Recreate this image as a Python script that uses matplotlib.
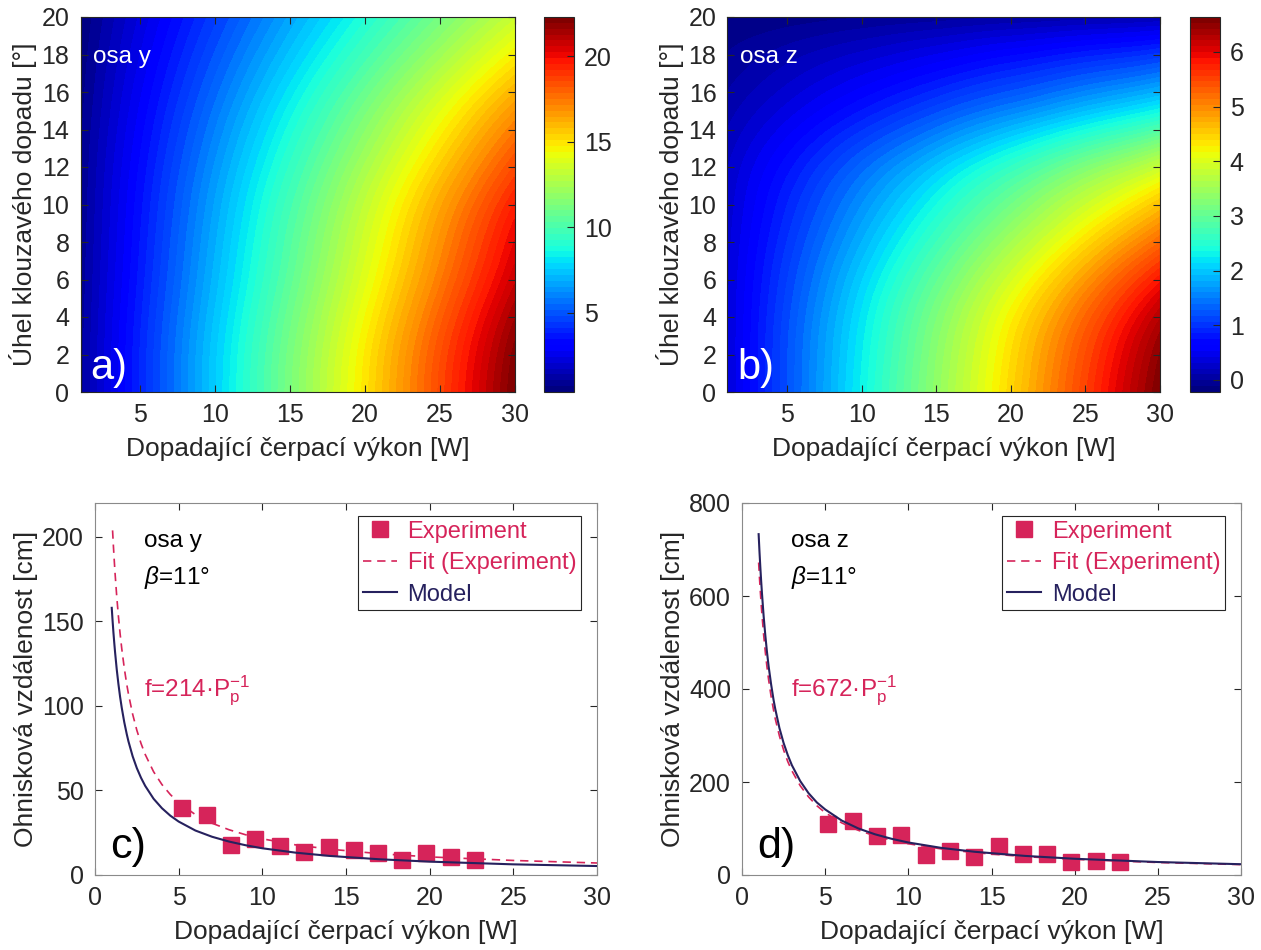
import matplotlib
matplotlib.use('Agg')
import matplotlib.pyplot as plt
import matplotlib.tri as mtri
import matplotlib.cm as mcm
import matplotlib.colors as mcolors
import numpy as np

plt.rcParams['font.family'] = ['Liberation Sans', 'DejaVu Sans']
plt.rcParams['mathtext.fontset'] = 'custom'
plt.rcParams['mathtext.rm'] = 'Liberation Sans'
plt.rcParams['mathtext.it'] = 'Liberation Sans:italic'
plt.rcParams['mathtext.bf'] = 'Liberation Sans:bold'

# ---------------- data: heat maps ----------------
P_grid = [1, 5, 10, 15, 20, 25, 30]
theta_grid = [0, 2.5, 5, 7.5, 10, 12.5, 15, 17.5, 20]

# optical power, axis y (rows = angle, columns = pump power)
power_y = [
    [0.90, 3.85, 7.53, 11.24, 14.92, 18.62, 22.30],
    [0.90, 3.81, 7.44, 11.09, 14.72, 18.37, 22.00],
    [0.85, 3.66, 7.16, 10.68, 14.18, 17.70, 21.20],
    [0.80, 3.50, 6.88, 10.27, 13.64, 17.03, 20.40],
    [0.75, 3.35, 6.59, 9.85, 13.10, 16.36, 19.60],
    [0.70, 3.13, 6.16, 9.20, 12.23, 15.27, 18.30],
    [0.60, 2.84, 5.62, 8.42, 11.21, 14.01, 16.80],
    [0.50, 2.50, 5.00, 7.50, 10.00, 12.51, 15.00],
    [0.37, 2.15, 4.38, 6.62, 8.84, 11.08, 13.30],
]
# optical power, axis z
power_z = [
    [0.30, 1.17, 2.27, 3.36, 4.45, 5.55, 6.64],
    [0.30, 1.16, 2.22, 3.29, 4.36, 5.43, 6.50],
    [0.30, 1.10, 2.10, 3.10, 4.10, 5.10, 6.10],
    [0.28, 0.99, 1.87, 2.75, 3.63, 4.52, 5.40],
    [0.25, 0.85, 1.60, 2.35, 3.10, 3.85, 4.60],
    [0.18, 0.65, 1.24, 1.83, 2.42, 3.01, 3.60],
    [0.05, 0.36, 0.75, 1.14, 1.52, 1.91, 2.30],
    [-0.08, 0.10, 0.32, 0.54, 0.76, 0.98, 1.20],
    [-0.22, -0.18, -0.12, -0.07, -0.01, 0.04, 0.10],
]
clim_y = (0.37, 22.3)
clim_z = (-0.22, 6.64)
cticks_y = [5, 10, 15, 20]
cticks_z = [0, 1, 2, 3, 4, 5, 6]

# ---------------- data: focal distance vs pump power ----------------
P_exp = [5.17, 6.68, 8.11, 9.57, 11.05, 12.5, 13.97, 15.45, 16.9, 18.36, 19.8, 21.28, 22.7]
f_exp_y = [39.7, 35.4, 17.7, 21.2, 17.1, 13.4, 16.3, 14.7, 12.8, 9.0, 12.8, 10.8, 8.8]
f_exp_z = [109.7, 116.8, 84.6, 86.0, 43.0, 52.0, 39.4, 61.6, 45.0, 45.0, 27.0, 30.8, 27.0]

P_model = [1, 1.05, 1.1, 1.15, 1.2, 1.3, 1.4, 1.5, 1.6, 1.75, 1.9, 2, 2.25, 2.5, 2.75, 3,
           3.5, 4, 4.5, 5, 6, 7, 8, 9, 10, 12, 14, 17, 20, 25, 30]
f_model_y = [158.0, 150.5, 143.6, 137.4, 131.7, 121.5, 112.9, 105.3, 98.8, 90.3, 83.2, 79.0,
             70.2, 63.2, 57.5, 52.7, 45.1, 39.5, 35.1, 31.6, 26.3, 22.6, 19.8, 17.6, 15.8,
             13.2, 11.3, 9.3, 7.9, 6.3, 5.3]
f_model_z = [733, 696, 663, 633, 606, 557, 516, 480, 449, 410, 376, 357, 316, 284, 258, 236,
             202, 176, 156, 141, 117, 100, 87.5, 77.8, 69.9, 58.2, 49.9, 41.1, 34.9, 27.9, 23.2]

P_fit_y = [1.05, 1.1, 1.15, 1.2, 1.3, 1.4, 1.5, 1.6, 1.75, 1.9, 2, 2.25, 2.5, 2.75, 3,
           3.5, 4, 4.5, 5, 6, 7, 8, 9, 10, 12, 14, 17, 20, 25, 30]
f_fit_y = [203.8, 194.5, 186.1, 178.3, 164.6, 152.9, 142.7, 133.8, 122.3, 112.6, 107.0, 95.1,
           85.6, 77.8, 71.3, 61.1, 53.5, 47.6, 42.8, 35.7, 30.6, 26.8, 23.8, 21.4, 17.8, 15.3,
           12.6, 10.7, 8.6, 7.1]
P_fit_z = [1, 1.05, 1.1, 1.15, 1.2, 1.3, 1.4, 1.5, 1.6, 1.75, 1.9, 2, 2.25, 2.5, 2.75, 3,
           3.5, 4, 4.5, 5, 6, 7, 8, 9, 10, 12, 14, 17, 20, 25, 30]
f_fit_z = [672, 640, 611, 584, 560, 517, 480, 448, 420, 384, 354, 336, 299, 269, 244, 224,
           192, 168, 149, 134, 112, 96, 84, 74.7, 67.2, 56, 48, 39.5, 33.6, 26.9, 22.4]

xlabel = 'Dopadající čerpací výkon [W]'
ylabel_top = 'Úhel klouzavého dopadu [°]'
ylabel_bot = 'Ohnisková vzdálenost [cm]'

crimson = '#D6245A'
navy = '#26215E'
txt = '#262626'

W, H = 1261, 950
fig = plt.figure(figsize=(W / 100, H / 100), dpi=100)


def rect(l, r, t, b):
    return [l / W, 1 - b / H, (r - l) / W, (b - t) / H]


ax_a = fig.add_axes(rect(80.5, 514.5, 17, 392))
cax_a = fig.add_axes(rect(544, 574, 17, 392))
ax_b = fig.add_axes(rect(727.5, 1160, 17, 392))
cax_b = fig.add_axes(rect(1190, 1220, 17, 392))
ax_c = fig.add_axes(rect(95, 597, 503, 875))
ax_d = fig.add_axes(rect(742, 1241, 503, 875))

FS_TICK = 18
FS_XL = 19
FS_YL = 19
FS_TXT = 17.5
jet64 = plt.get_cmap('jet', 64)


def style_ticks(ax, color=txt):
    ax.tick_params(direction='in', top=True, right=True, length=5, width=0.8,
                   labelsize=FS_TICK, colors=txt, pad=8)
    for s in ax.spines.values():
        s.set_color(color)
        s.set_linewidth(0.8)


def heat(ax, cax, Z, clim, cticks, axis_name, panel):
    vmin, vmax = clim
    PP, TT = np.meshgrid(P_grid, theta_grid)
    tri = mtri.Triangulation(PP.ravel(), TT.ravel())
    refiner = mtri.UniformTriRefiner(tri)
    tri_f, z_f = refiner.refine_field(np.array(Z, dtype=float).ravel(), subdiv=4)
    levels = np.linspace(vmin, vmax, 65)
    ax.tricontourf(tri_f, z_f, levels=levels, cmap='jet', vmin=vmin, vmax=vmax,
                   extend='both', antialiased=False)
    ax.set_xlim(1, 30)
    ax.set_ylim(0, 20)
    ax.set_xticks([5, 10, 15, 20, 25, 30])
    ax.set_yticks(range(0, 21, 2))
    style_ticks(ax)
    ax.set_xlabel(xlabel, fontsize=FS_XL, color=txt, labelpad=7)
    ax.set_ylabel(ylabel_top, fontsize=FS_YL, color=txt, labelpad=3)
    ax.text(0.028, 0.893, axis_name, transform=ax.transAxes, color='white',
            fontsize=FS_TXT, va='center', ha='left')
    ax.text(0.022, 0.012, panel, transform=ax.transAxes, color='white',
            fontsize=30, va='bottom', ha='left')
    sm = mcm.ScalarMappable(norm=mcolors.Normalize(vmin, vmax), cmap=jet64)
    cb = fig.colorbar(sm, cax=cax, ticks=cticks)
    cb.ax.tick_params(direction='in', length=5, width=0.8, labelsize=FS_TICK, colors=txt,
                      pad=7)
    cb.outline.set_edgecolor(txt)
    cb.outline.set_linewidth(0.8)
    cb.ax.set_yticklabels([str(t) for t in cticks])


heat(ax_a, cax_a, power_y, clim_y, cticks_y, 'osa y', 'a)')
heat(ax_b, cax_b, power_z, clim_z, cticks_z, 'osa z', 'b)')


def focal(ax, f_exp, P_fit, f_fit, f_model, ylim, yticks, axis_name, fit_label, panel):
    ax.plot(P_exp, f_exp, 's', color=crimson, ms=12, label='Experiment', zorder=2)
    ax.plot(P_fit, f_fit, '--', color=crimson, lw=1.2, dashes=(5, 3.5),
            label='Fit (Experiment)', zorder=3)
    ax.plot(P_model, f_model, '-', color=navy, lw=1.5, label='Model', zorder=4)
    ax.set_xlim(0, 30)
    ax.set_ylim(*ylim)
    ax.set_xticks(range(0, 31, 5))
    ax.set_yticks(yticks)
    style_ticks(ax, color='#8a8a8a')
    ax.set_xlabel(xlabel, fontsize=FS_XL, color=txt, labelpad=7)
    ax.set_ylabel(ylabel_bot, fontsize=FS_YL, color=txt, labelpad=3)
    leg = ax.legend(loc='upper right', bbox_to_anchor=(0.968, 0.965), fontsize=17,
                    frameon=True, fancybox=False, edgecolor=txt, framealpha=1,
                    handlelength=1.45, labelspacing=0.4, borderpad=0.2,
                    handletextpad=0.45, borderaxespad=0, numpoints=1)
    leg.get_frame().set_linewidth(0.8)
    for t, c in zip(leg.get_texts(), [crimson, crimson, navy]):
        t.set_color(c)
    ax.text(0.098, 0.898, axis_name, transform=ax.transAxes, color='black',
            fontsize=FS_TXT, va='center', ha='left')
    ax.text(0.098, 0.80, r'$\mathit{\beta}$=11°', transform=ax.transAxes, color='black',
            fontsize=FS_TXT, va='center', ha='left')
    ax.text(0.098, 0.48, fit_label, transform=ax.transAxes, color=crimson,
            fontsize=FS_TXT, va='baseline', ha='left')
    ax.text(0.03, 0.075, panel, transform=ax.transAxes, color='black',
            fontsize=31, va='center', ha='left')


focal(ax_c, f_exp_y, P_fit_y, f_fit_y, f_model_y, (0, 220), [0, 50, 100, 150, 200],
      'osa y', r'f=214·P$_\mathrm{p}^{\mathrm{-1}}$', 'c)')
focal(ax_d, f_exp_z, P_fit_z, f_fit_z, f_model_z, (0, 800), [0, 200, 400, 600, 800],
      'osa z', r'f=672·P$_\mathrm{p}^{\mathrm{-1}}$', 'd)')

fig.savefig('out.png', dpi=100)
